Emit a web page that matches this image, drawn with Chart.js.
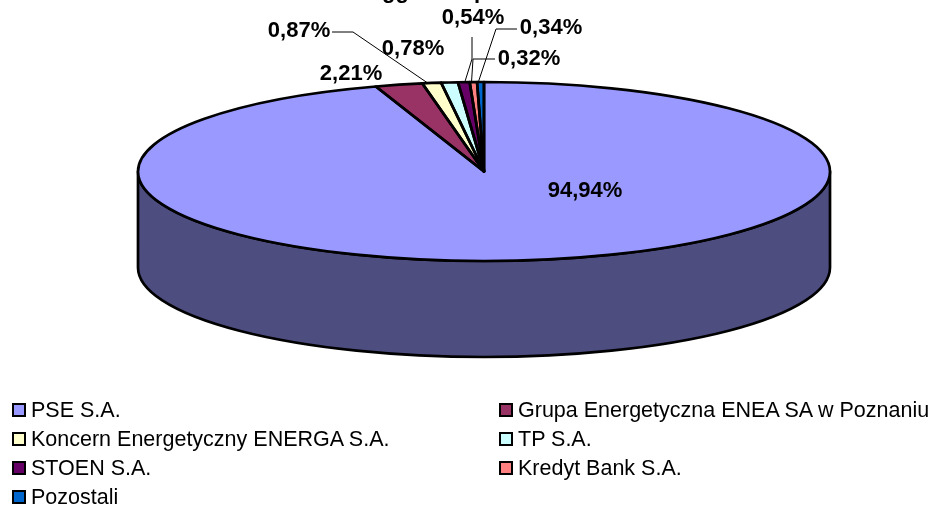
<!DOCTYPE html>
<html>
<head>
<meta charset="utf-8">
<script src="https://cdn.jsdelivr.net/npm/chart.js@4"></script>
<style>
html, body { margin: 0; padding: 0; background: #fff; }
#wrap { position: relative; width: 932px; height: 506px; overflow: hidden; }
#pie { position: absolute; left: 0; top: 0; }
.leg { position: absolute; font: 21.5px "Liberation Sans", Arial, sans-serif; color: #000; white-space: nowrap; line-height: 24px; }
.leg i { position: absolute; left: -19px; top: 5px; width: 10px; height: 10px; border: 2px solid #000; }
</style>
</head>
<body>
<div id="wrap"><canvas id="pie" width="932" height="506"></canvas></div>
<script>
// Chart data
const companies = ['PSE S.A.', 'Grupa Energetyczna ENEA SA w Poznaniu', 'Koncern Energetyczny ENERGA S.A.', 'TP S.A.', 'STOEN S.A.', 'Kredyt Bank S.A.', 'Pozostali'];
const shares = [94.94, 2.21, 0.87, 0.78, 0.54, 0.34, 0.32];
const sliceColors = ['#9999FF', '#993366', '#FFFFCC', '#CCFFFF', '#660066', '#FF8080', '#0066CC'];
const sideColor = '#4D4D80';

// Only the bottoms of these title letters are left in the picture
const titleScraps = [{ text: 'gg', x: 382 }, { text: 'p', x: 474 }];

// Geometry of the squashed pie
const centerX = 484, centerY = 171.5, radiusX = 346, radiusY = 89.5, depth = 96, baseR = 100;
const penWidth = 2.7;

// label position per slice, elbow points of the leader line and how far its tip sits off the slice middle
const labelSpots = [
    { x: 585, y: 191 },
    { x: 351, y: 74 },
    { x: 299, y: 31, leader: [[332, 32], [353, 32]], tipShift: -4 },
    { x: 413, y: 49 },
    { x: 473, y: 18, leader: [[472, 37], [472, 59]], tipShift: 1 },
    { x: 551, y: 28, leader: [[517, 29], [496, 29]], tipShift: 5 },
    { x: 529, y: 59, leader: [[495, 59], [473, 59]], tipShift: -9 }
];

// Draws the side wall under the pie and puts the pie in a flattening transform
const squashPlugin = {
    id: 'squash',
    beforeDatasetsDraw(chart) {
        const ctx = chart.ctx;
        const arcs = chart.getDatasetMeta(0).data;
        ctx.save();
        ctx.lineWidth = penWidth;
        ctx.strokeStyle = '#000';
        ctx.lineJoin = 'round';
        ctx.fillStyle = sideColor;
        arcs.forEach(function(arc) {
            // only the front half of the rim can be seen (canvas angles 0..PI)
            const props = arc.getProps(['startAngle', 'endAngle']);
            const a = Math.max(props.startAngle, 0);
            const b = Math.min(props.endAngle, Math.PI);
            if (b <= a) return;
            ctx.beginPath();
            ctx.ellipse(centerX, centerY, radiusX, radiusY, 0, a, b);
            ctx.ellipse(centerX, centerY + depth, radiusX, radiusY, 0, b, a, true);
            ctx.closePath();
            ctx.fill();
            ctx.stroke();
        });
        ctx.restore();

        ctx.save();
        ctx.translate(centerX, centerY);
        ctx.scale(radiusX / baseR, radiusY / baseR);
        ctx.translate(-centerX, -centerY);
    },
    afterDatasetsDraw(chart) {
        const ctx = chart.ctx;
        const arcs = chart.getDatasetMeta(0).data;
        ctx.restore();

        // Slice outlines, done after the transform so the pen stays even
        ctx.save();
        ctx.lineWidth = penWidth;
        ctx.strokeStyle = '#000';
        ctx.lineJoin = 'round';
        arcs.forEach(function(arc) {
            const props = arc.getProps(['startAngle', 'endAngle']);
            ctx.beginPath();
            ctx.moveTo(centerX, centerY);
            ctx.ellipse(centerX, centerY, radiusX, radiusY, 0, props.startAngle, props.endAngle);
            ctx.closePath();
            ctx.stroke();
        });
        ctx.restore();

        // Value labels and leader lines
        ctx.save();
        ctx.font = 'bold 22px "Liberation Sans", Arial, sans-serif';
        ctx.textAlign = 'center';
        ctx.textBaseline = 'middle';
        ctx.fillStyle = '#000';
        arcs.forEach(function(arc, i) {
            const spot = labelSpots[i];
            const props = arc.getProps(['startAngle', 'endAngle']);
            if (spot.leader) {
                const mid = (props.startAngle + props.endAngle) / 2;
                ctx.beginPath();
                spot.leader.forEach(function(p, k) {
                    if (k === 0) ctx.moveTo(p[0], p[1]); else ctx.lineTo(p[0], p[1]);
                });
                ctx.lineTo(centerX + radiusX * Math.cos(mid) + spot.tipShift, centerY + radiusY * Math.sin(mid));
                ctx.lineWidth = 1;
                ctx.strokeStyle = '#000';
                ctx.stroke();
            }
            ctx.fillText(shares[i].toFixed(2).replace('.', ',') + '%', spot.x, spot.y);
        });

        // Cut off title, baseline above the top edge
        ctx.textAlign = 'left';
        ctx.textBaseline = 'alphabetic';
        titleScraps.forEach(function(s) {
            ctx.fillText(s.text, s.x, -2);
        });
        ctx.restore();
    }
};

new Chart(document.getElementById('pie').getContext('2d'), {
    type: 'pie',
    data: {
        labels: companies,
        datasets: [{ data: shares, backgroundColor: sliceColors, borderWidth: 0 }]
    },
    options: {
        responsive: false,
        animation: false,
        layout: {
            padding: {
                left: centerX - baseR,
                right: 932 - centerX - baseR,
                top: centerY - baseR,
                bottom: 506 - centerY - baseR
            }
        },
        plugins: {
            legend: { display: false },
            tooltip: { enabled: false }
        }
    },
    plugins: [squashPlugin]
});

// Legend, two columns filled row by row
const wrap = document.getElementById('wrap');
companies.forEach(function(name, i) {
    const item = document.createElement('div');
    item.className = 'leg';
    item.style.left = (i % 2 === 0 ? 31 : 518) + 'px';
    item.style.top = (398 + 29 * Math.floor(i / 2)) + 'px';
    item.textContent = name;
    const box = document.createElement('i');
    box.style.background = sliceColors[i];
    item.appendChild(box);
    wrap.appendChild(item);
});
</script>
</body>
</html>
